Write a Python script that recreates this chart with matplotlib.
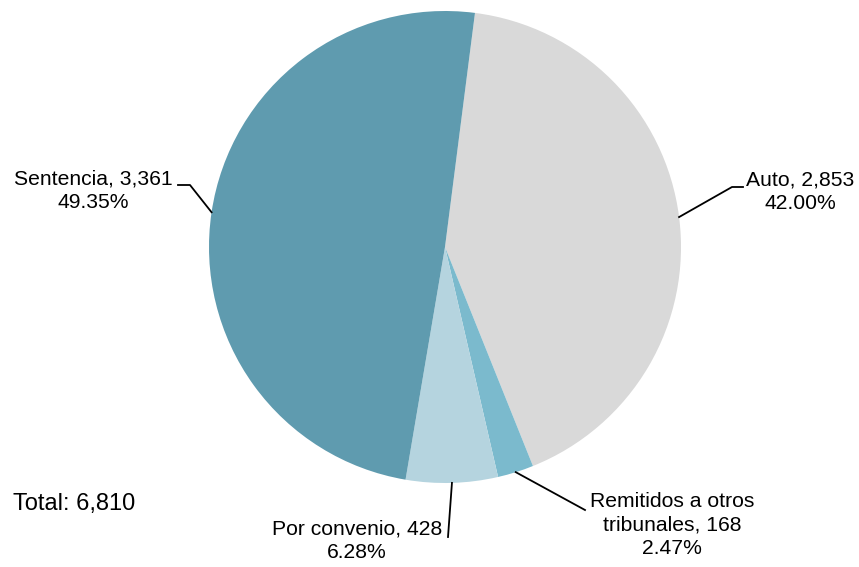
import numpy as np
import matplotlib.pyplot as plt

plt.rcParams['font.family'] = ['Liberation Sans', 'DejaVu Sans']

# datos
categorias = ['Auto', 'Remitidos a otros\ntribunales', 'Por convenio', 'Sentencia']
valores = [2853, 168, 428, 3361]
porcentajes = ['42.00%', '2.47%', '6.28%', '49.35%']
colores = ['#d9d9d9', '#7bbacd', '#b5d4df', '#5f9baf']
total = sum(valores)

W, H = 859, 567
fig = plt.figure(figsize=(W / 100, H / 100), dpi=100)
ax = fig.add_axes([0, 0, 1, 1])

cx, cy, r = 445, H - 247, 236
wedges, _ = ax.pie(valores, colors=colores, startangle=82.7,
                   counterclock=False, center=(cx, cy), radius=r, frame=True,
                   wedgeprops=dict(linewidth=0))
ax.set_xlim(0, W)
ax.set_ylim(0, H)
ax.set_aspect('equal')
ax.axis('off')

# posiciones de etiquetas (codo de la linea, fin de linea, texto)
layout = [
    ((732, 187), (743, 187), (800, 192)),
    ((585, 510), (585, 510), (672, 525)),
    ((448, 537), (448, 537), (357, 541)),
    ((190, 185), (178, 185), (93, 191)),
]

for w, cat, v, p, (codo, fin, txt) in zip(wedges, categorias, valores, porcentajes, layout):
    ang = np.deg2rad((w.theta1 + w.theta2) / 2)
    x0, y0 = cx + r * np.cos(ang), cy + r * np.sin(ang)
    ax.plot([x0, codo[0], fin[0]], [y0, H - codo[1], H - fin[1]], color='black', lw=1.3)
    ax.text(txt[0], H - txt[1], f'{cat}, {v:,}\n{p}', ha='center', va='center',
            fontsize=15.2, linespacing=1.3)

ax.text(13, H - 504, f'Total: {total:,}', ha='left', va='center', fontsize=17)

fig.savefig('out.png', dpi=100)
